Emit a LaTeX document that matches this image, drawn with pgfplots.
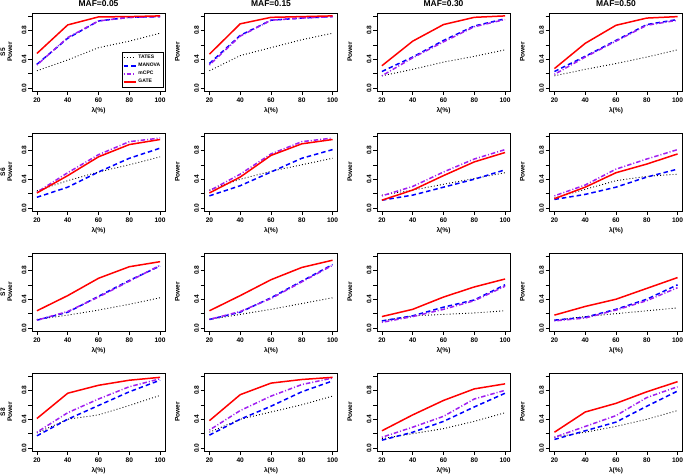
\documentclass[border=0pt]{standalone}
\usepackage{fontspec}
\setmainfont{Liberation Sans}
\usepackage{pgfplots}
\pgfplotsset{compat=1.18}
\usepgfplotslibrary{groupplots}
\definecolor{rpurple}{HTML}{A020F0}
\pgfplotsset{
  tates/.style={black, line width=0.9pt, dash pattern=on 0.9pt off 2.2pt},
  manova/.style={blue, line width=1.5pt, dash pattern=on 4.5pt off 3pt},
  mcpc/.style={rpurple, line width=1.5pt, dash pattern=on 1pt off 2pt on 4.5pt off 2pt},
  gate/.style={red, line width=1.5pt},
  every axis title/.style={at={(0.5,1)}, anchor=center, yshift=9pt, font=\fontsize{8.5}{9}\selectfont\bfseries},
  myaxis/.style={
    width=133pt, height=78pt, scale only axis,
    xmin=16.8, xmax=103.2, ymin=-0.04, ymax=1.04,
    xtick={20,40,60,80,100}, xticklabels={20,40,60,80,100},
    ytick={0,0.2,0.4,0.6,0.8,1}, yticklabels={0.0,,0.4,,0.8,},
    tick align=outside, xtick pos=bottom, ytick pos=left,
    major tick length=3.8pt, tick style={black, line width=0.5pt},
    axis line style={line width=0.5pt},
    font=\fontsize{6.6}{7}\selectfont\bfseries,
    yticklabel style={rotate=90, anchor=south, inner sep=1.5pt},
    xticklabel style={inner sep=2.5pt},
    xlabel={λ(\%)},
    xlabel style={at={(axis description cs:0.5,0)}, anchor=north, yshift=-16pt, inner sep=0pt},
    ylabel={Power},
    ylabel style={at={(axis description cs:-0.203,0.5)}, anchor=center, inner sep=0pt},
    legend image code/.code={\draw[#1] (0pt,0pt) -- (12pt,0pt);},
  },
}
\begin{document}
\begin{tikzpicture}
\begin{groupplot}[group style={group size=4 by 4, horizontal sep=39.5pt, vertical sep=42pt}, myaxis]
% ---------- Row 1: S5 ----------
\nextgroupplot[title={MAF=0.05}, ylabel={S5\\Power}, ylabel style={align=center, at={(axis description cs:-0.192,0.5)}},
  legend style={at={(1,0)}, anchor=south east, xshift=-1.5pt, yshift=3.5pt, font=\fontsize{5}{5.5}\selectfont\bfseries, draw=black, line width=0.4pt, inner sep=1pt, row sep=-1pt, cells={anchor=west}}]
\addplot[tates] coordinates {(20,0.24) (40,0.39) (60,0.56) (80,0.65) (100,0.76)};
\addplot[manova] coordinates {(20,0.33) (40,0.69) (60,0.93) (80,0.98) (100,0.99)};
\addplot[mcpc] coordinates {(20,0.32) (40,0.70) (60,0.93) (80,0.98) (100,0.99)};
\addplot[gate] coordinates {(20,0.48) (40,0.875) (60,0.986) (80,0.99) (100,1.0)};
\legend{TATES,MANOVA,mCPC,GATE}
\nextgroupplot[title={MAF=0.15}]
\addplot[tates] coordinates {(20,0.24) (40,0.45) (60,0.56) (80,0.67) (100,0.76)};
\addplot[manova] coordinates {(20,0.34) (40,0.73) (60,0.94) (80,0.97) (100,0.99)};
\addplot[mcpc] coordinates {(20,0.32) (40,0.72) (60,0.94) (80,0.97) (100,0.99)};
\addplot[gate] coordinates {(20,0.47) (40,0.89) (60,0.98) (80,0.99) (100,1.0)};
\nextgroupplot[title={MAF=0.30}]
\addplot[tates] coordinates {(20,0.17) (40,0.26) (60,0.36) (80,0.44) (100,0.53)};
\addplot[manova] coordinates {(20,0.23) (40,0.43) (60,0.66) (80,0.86) (100,0.96)};
\addplot[mcpc] coordinates {(20,0.17) (40,0.42) (60,0.64) (80,0.85) (100,0.95)};
\addplot[gate] coordinates {(20,0.31) (40,0.65) (60,0.88) (80,0.98) (100,1.0)};
\nextgroupplot[title={MAF=0.50}]
\addplot[tates] coordinates {(20,0.17) (40,0.26) (60,0.34) (80,0.43) (100,0.53)};
\addplot[manova] coordinates {(20,0.23) (40,0.44) (60,0.66) (80,0.88) (100,0.95)};
\addplot[mcpc] coordinates {(20,0.19) (40,0.43) (60,0.65) (80,0.87) (100,0.94)};
\addplot[gate] coordinates {(20,0.27) (40,0.62) (60,0.87) (80,0.97) (100,0.99)};
% ---------- Row 2: S6 ----------
\nextgroupplot[ylabel={S6\\Power}, ylabel style={align=center, at={(axis description cs:-0.192,0.5)}}]
\addplot[tates] coordinates {(20,0.24) (40,0.38) (60,0.50) (80,0.60) (100,0.71)};
\addplot[manova] coordinates {(20,0.15) (40,0.29) (60,0.50) (80,0.69) (100,0.83)};
\addplot[mcpc] coordinates {(20,0.22) (40,0.49) (60,0.74) (80,0.92) (100,0.97)};
\addplot[gate] coordinates {(20,0.21) (40,0.45) (60,0.71) (80,0.88) (100,0.95)};
\nextgroupplot
\addplot[tates] coordinates {(20,0.25) (40,0.40) (60,0.51) (80,0.60) (100,0.69)};
\addplot[manova] coordinates {(20,0.17) (40,0.31) (60,0.50) (80,0.69) (100,0.81)};
\addplot[mcpc] coordinates {(20,0.24) (40,0.47) (60,0.75) (80,0.92) (100,0.97)};
\addplot[gate] coordinates {(20,0.21) (40,0.43) (60,0.73) (80,0.89) (100,0.95)};
\nextgroupplot
\addplot[tates] coordinates {(20,0.18) (40,0.25) (60,0.33) (80,0.41) (100,0.49)};
\addplot[manova] coordinates {(20,0.11) (40,0.18) (60,0.29) (80,0.40) (100,0.53)};
\addplot[mcpc] coordinates {(20,0.17) (40,0.30) (60,0.50) (80,0.68) (100,0.81)};
\addplot[gate] coordinates {(20,0.11) (40,0.25) (60,0.45) (80,0.64) (100,0.77)};
\nextgroupplot
\addplot[tates] coordinates {(20,0.14) (40,0.26) (60,0.38) (80,0.44) (100,0.47)};
\addplot[manova] coordinates {(20,0.12) (40,0.19) (60,0.29) (80,0.43) (100,0.54)};
\addplot[mcpc] coordinates {(20,0.17) (40,0.32) (60,0.54) (80,0.68) (100,0.81)};
\addplot[gate] coordinates {(20,0.13) (40,0.29) (60,0.49) (80,0.61) (100,0.75)};
% ---------- Row 3: S7 ----------
\nextgroupplot[ylabel={S7\\Power}, ylabel style={align=center, at={(axis description cs:-0.192,0.5)}}]
\addplot[tates] coordinates {(20,0.12) (40,0.18) (60,0.25) (80,0.33) (100,0.42)};
\addplot[manova] coordinates {(20,0.11) (40,0.22) (60,0.44) (80,0.66) (100,0.86)};
\addplot[mcpc] coordinates {(20,0.11) (40,0.23) (60,0.43) (80,0.65) (100,0.87)};
\addplot[gate] coordinates {(20,0.24) (40,0.45) (60,0.69) (80,0.85) (100,0.92)};
\nextgroupplot
\addplot[tates] coordinates {(20,0.12) (40,0.19) (60,0.26) (80,0.34) (100,0.42)};
\addplot[manova] coordinates {(20,0.12) (40,0.22) (60,0.42) (80,0.65) (100,0.88)};
\addplot[mcpc] coordinates {(20,0.12) (40,0.23) (60,0.41) (80,0.64) (100,0.87)};
\addplot[gate] coordinates {(20,0.24) (40,0.45) (60,0.67) (80,0.84) (100,0.94)};
\nextgroupplot
\addplot[tates] coordinates {(20,0.10) (40,0.17) (60,0.19) (80,0.21) (100,0.24)};
\addplot[manova] coordinates {(20,0.10) (40,0.17) (60,0.29) (80,0.39) (100,0.60)};
\addplot[mcpc] coordinates {(20,0.08) (40,0.16) (60,0.26) (80,0.38) (100,0.58)};
\addplot[gate] coordinates {(20,0.16) (40,0.26) (60,0.43) (80,0.57) (100,0.68)};
\nextgroupplot
\addplot[tates] coordinates {(20,0.11) (40,0.16) (60,0.20) (80,0.24) (100,0.28)};
\addplot[manova] coordinates {(20,0.11) (40,0.15) (60,0.26) (80,0.40) (100,0.60)};
\addplot[mcpc] coordinates {(20,0.10) (40,0.14) (60,0.25) (80,0.38) (100,0.56)};
\addplot[gate] coordinates {(20,0.18) (40,0.30) (60,0.40) (80,0.55) (100,0.70)};
% ---------- Row 4: S8 ----------
\nextgroupplot[ylabel={S8\\Power}, ylabel style={align=center, at={(axis description cs:-0.192,0.5)}}]
\addplot[tates] coordinates {(20,0.21) (40,0.40) (60,0.46) (80,0.59) (100,0.73)};
\addplot[manova] coordinates {(20,0.17) (40,0.40) (60,0.59) (80,0.78) (100,0.94)};
\addplot[mcpc] coordinates {(20,0.22) (40,0.49) (60,0.68) (80,0.85) (100,0.96)};
\addplot[gate] coordinates {(20,0.41) (40,0.76) (60,0.87) (80,0.94) (100,0.98)};
\nextgroupplot
\addplot[tates] coordinates {(20,0.22) (40,0.40) (60,0.50) (80,0.60) (100,0.72)};
\addplot[manova] coordinates {(20,0.18) (40,0.40) (60,0.58) (80,0.78) (100,0.93)};
\addplot[mcpc] coordinates {(20,0.25) (40,0.52) (60,0.72) (80,0.88) (100,0.97)};
\addplot[gate] coordinates {(20,0.38) (40,0.74) (60,0.90) (80,0.95) (100,0.98)};
\nextgroupplot
\addplot[tates] coordinates {(20,0.13) (40,0.20) (60,0.27) (80,0.37) (100,0.49)};
\addplot[manova] coordinates {(20,0.11) (40,0.22) (60,0.37) (80,0.57) (100,0.76)};
\addplot[mcpc] coordinates {(20,0.15) (40,0.29) (60,0.44) (80,0.68) (100,0.80)};
\addplot[gate] coordinates {(20,0.24) (40,0.46) (60,0.66) (80,0.82) (100,0.89)};
\nextgroupplot
\addplot[tates] coordinates {(20,0.15) (40,0.22) (60,0.30) (80,0.40) (100,0.52)};
\addplot[manova] coordinates {(20,0.12) (40,0.24) (60,0.36) (80,0.58) (100,0.79)};
\addplot[mcpc] coordinates {(20,0.15) (40,0.30) (60,0.45) (80,0.70) (100,0.85)};
\addplot[gate] coordinates {(20,0.22) (40,0.50) (60,0.62) (80,0.78) (100,0.92)};
\end{groupplot}
\pgfresetboundingbox
\useasboundingbox (group c1r1.north west) ++(-32pt,13pt) rectangle ++(685pt,-475pt);
\end{tikzpicture}
\end{document}
